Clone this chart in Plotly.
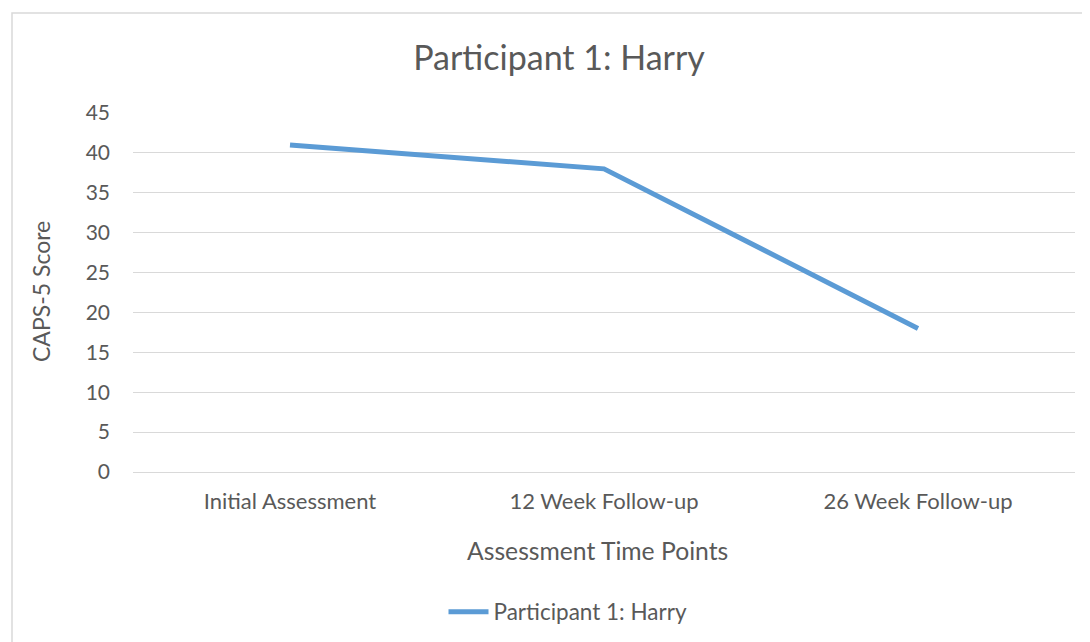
import plotly.graph_objects as go

categories = ["Initial Assessment", "12 Week Follow-up", "26 Week Follow-up"]
scores = [41, 38, 18]
series_name = "Participant 1: Harry"
y_ticks = [0, 5, 10, 15, 20, 25, 30, 35, 40, 45]

FONT = "Lato, 'Open Sans', sans-serif"
GREY = "#595959"

W, H = 1090, 642
OFF = 8  # page body margin
L, R, T, B = 133 - OFF, 1075 - OFF, 113 - OFF, 472 - OFF  # plot area pixel bounds (figure coords)

fig = go.Figure()
fig.add_trace(go.Scatter(
    x=categories, y=scores, mode="lines", name=series_name,
    line=dict(color="#5B9BD5", width=5),
))

def px_x(p):
    return (p - OFF - L) / (R - L)

def px_y(p):
    return (B - (p - OFF)) / (B - T)

fig.update_layout(
    width=W, height=H,
    margin=dict(l=L, r=W - R, t=T, b=H - B),
    paper_bgcolor="white", plot_bgcolor="white",
    font=dict(family=FONT, color=GREY, size=22),
    title=dict(text="Participant 1: Harry", font=dict(size=34, color=GREY, family=FONT),
               x=px_x(559), xref="paper", xanchor="center",
               y=1 - (58 - OFF) / H, yref="container", yanchor="middle"),
    showlegend=True,
    legend=dict(orientation="h", x=px_x(568), xanchor="center", y=px_y(612), yanchor="middle",
                font=dict(size=22.5, color=GREY, family=FONT), itemwidth=40),
    xaxis=dict(type="category", showgrid=False, zeroline=False, showline=False,
               ticks="", tickfont=dict(size=22, color=GREY), range=[-0.5, 2.5],
               ticklabelstandoff=14),
    yaxis=dict(range=[0, 45], tickvals=y_ticks, showgrid=True, gridcolor="#D9D9D9", gridwidth=1.3,
               zeroline=True, zerolinecolor="#D9D9D9", zerolinewidth=1.3,
               showline=False, ticks="", tickfont=dict(size=21, color=GREY),
               ticklabelstandoff=22),
)

fig.add_annotation(text="Assessment Time Points", xref="paper", yref="paper",
                   x=px_x(597), y=px_y(550), showarrow=False, xanchor="center", yanchor="middle",
                   font=dict(size=24.7, color=GREY, family=FONT))
fig.add_annotation(text="CAPS-5 Score", xref="paper", yref="paper", textangle=-90,
                   x=px_x(41), y=px_y(292), showarrow=False, xanchor="center", yanchor="middle",
                   font=dict(size=23, color=GREY, family=FONT))

# chart-area frame
fig.add_shape(type="rect", xref="paper", yref="paper",
              x0=px_x(12), x1=px_x(1106), y0=px_y(660), y1=px_y(13),
              line=dict(color="#D9D9D9", width=1.5), fillcolor="rgba(0,0,0,0)", layer="below")

fig.write_html("out.html")
